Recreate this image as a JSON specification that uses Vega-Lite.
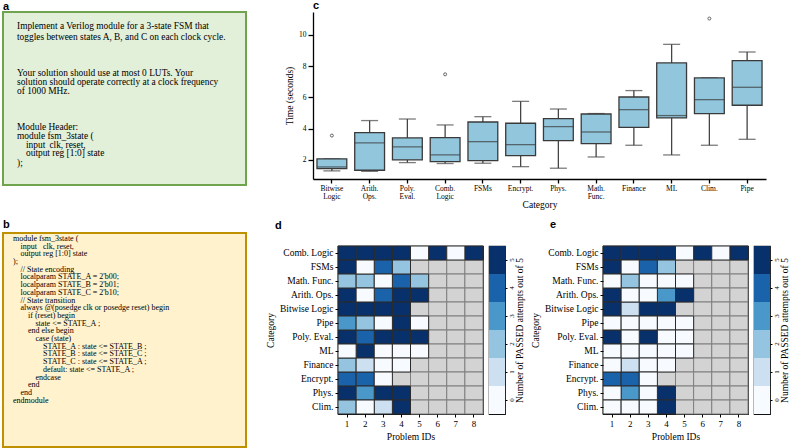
{
  "$schema": "https://vega.github.io/schema/vega-lite/v6.json",
  "padding": {"left": 2, "top": 0, "right": 0, "bottom": 0},
  "background": "white",
  "config": {
    "font": "Liberation Serif",
    "view": {"stroke": null},
    "axis": {"labelFont": "Liberation Serif", "titleFont": "Liberation Serif", "titleFontWeight": "normal", "labelColor": "#000", "titleColor": "#000", "domainColor": "#000", "tickColor": "#000", "grid": false},
    "title": {"font": "Liberation Sans", "fontWeight": "bold", "fontSize": 11, "anchor": "start", "frame": "group", "color": "#000"},
    "text": {"font": "Liberation Serif", "color": "#000"}
  },
  "datasets": {
    "box": [
      {"cat": "Bitwise Logic", "lo": 1.30, "q1": 1.45, "med": 1.55, "q3": 2.07, "hi": 2.07},
      {"cat": "Arith. Ops.", "lo": 1.27, "q1": 1.34, "med": 3.09, "q3": 3.75, "hi": 4.52},
      {"cat": "Poly. Eval.", "lo": 1.83, "q1": 2.00, "med": 2.83, "q3": 3.41, "hi": 4.62},
      {"cat": "Comb. Logic", "lo": 1.77, "q1": 1.89, "med": 2.32, "q3": 3.43, "hi": 4.24},
      {"cat": "FSMs", "lo": 1.79, "q1": 1.96, "med": 3.17, "q3": 4.43, "hi": 4.77},
      {"cat": "Encrypt.", "lo": 1.57, "q1": 2.28, "med": 2.98, "q3": 4.35, "hi": 5.75},
      {"cat": "Phys.", "lo": 1.47, "q1": 3.24, "med": 4.13, "q3": 4.65, "hi": 5.26},
      {"cat": "Math. Func.", "lo": 2.19, "q1": 3.05, "med": 3.79, "q3": 4.94, "hi": 4.97},
      {"cat": "Finance", "lo": 2.94, "q1": 4.09, "med": 5.22, "q3": 6.03, "hi": 6.44},
      {"cat": "ML", "lo": 2.32, "q1": 4.69, "med": 4.84, "q3": 8.21, "hi": 9.40},
      {"cat": "Clim.", "lo": 2.94, "q1": 4.97, "med": 5.86, "q3": 7.25, "hi": 7.25},
      {"cat": "Pipe", "lo": 3.32, "q1": 5.50, "med": 6.65, "q3": 8.36, "hi": 8.91}
    ],
    "out": [
      {"cat": "Bitwise Logic", "v": 3.56},
      {"cat": "Comb. Logic", "v": 7.48},
      {"cat": "Clim.", "v": 11.05}
    ],
    "hd": [
      {"cat": "Comb. Logic", "1": "5", "2": "5", "3": "5", "4": "5", "5": "0", "6": "5", "7": "0", "8": "5"},
      {"cat": "FSMs", "1": "5", "2": "0", "3": "4", "4": "2", "5": "NA", "6": "NA", "7": "NA", "8": "NA"},
      {"cat": "Math. Func.", "1": "2", "2": "2", "3": "0", "4": "4", "5": "2", "6": "NA", "7": "NA", "8": "NA"},
      {"cat": "Arith. Ops.", "1": "5", "2": "0", "3": "4", "4": "5", "5": "5", "6": "NA", "7": "NA", "8": "NA"},
      {"cat": "Bitwise Logic", "1": "5", "2": "5", "3": "5", "4": "5", "5": "NA", "6": "NA", "7": "NA", "8": "NA"},
      {"cat": "Pipe", "1": "3", "2": "2", "3": "0", "4": "5", "5": "0", "6": "NA", "7": "NA", "8": "NA"},
      {"cat": "Poly. Eval.", "1": "5", "2": "4", "3": "5", "4": "5", "5": "5", "6": "NA", "7": "NA", "8": "NA"},
      {"cat": "ML", "1": "0", "2": "5", "3": "0", "4": "0", "5": "0", "6": "NA", "7": "NA", "8": "NA"},
      {"cat": "Finance", "1": "2", "2": "1", "3": "0", "4": "0", "5": "NA", "6": "NA", "7": "NA", "8": "NA"},
      {"cat": "Encrypt.", "1": "4", "2": "4", "3": "0", "4": "NA", "5": "NA", "6": "NA", "7": "NA", "8": "NA"},
      {"cat": "Phys.", "1": "5", "2": "3", "3": "5", "4": "5", "5": "NA", "6": "NA", "7": "NA", "8": "NA"},
      {"cat": "Clim.", "1": "2", "2": "0", "3": "1", "4": "5", "5": "NA", "6": "NA", "7": "NA", "8": "NA"}
    ],
    "he": [
      {"cat": "Comb. Logic", "1": "5", "2": "5", "3": "5", "4": "5", "5": "0", "6": "5", "7": "0", "8": "5"},
      {"cat": "FSMs", "1": "5", "2": "0", "3": "4", "4": "2", "5": "NA", "6": "NA", "7": "NA", "8": "NA"},
      {"cat": "Math. Func.", "1": "0", "2": "2", "3": "0", "4": "0", "5": "0", "6": "NA", "7": "NA", "8": "NA"},
      {"cat": "Arith. Ops.", "1": "5", "2": "0", "3": "0", "4": "3", "5": "5", "6": "NA", "7": "NA", "8": "NA"},
      {"cat": "Bitwise Logic", "1": "5", "2": "1", "3": "5", "4": "5", "5": "NA", "6": "NA", "7": "NA", "8": "NA"},
      {"cat": "Pipe", "1": "0", "2": "0", "3": "0", "4": "0", "5": "0", "6": "NA", "7": "NA", "8": "NA"},
      {"cat": "Poly. Eval.", "1": "5", "2": "0", "3": "5", "4": "0", "5": "0", "6": "NA", "7": "NA", "8": "NA"},
      {"cat": "ML", "1": "0", "2": "0", "3": "0", "4": "0", "5": "0", "6": "NA", "7": "NA", "8": "NA"},
      {"cat": "Finance", "1": "0", "2": "1", "3": "0", "4": "0", "5": "NA", "6": "NA", "7": "NA", "8": "NA"},
      {"cat": "Encrypt.", "1": "4", "2": "4", "3": "0", "4": "NA", "5": "NA", "6": "NA", "7": "NA", "8": "NA"},
      {"cat": "Phys.", "1": "0", "2": "3", "3": "0", "4": "5", "5": "NA", "6": "NA", "7": "NA", "8": "NA"},
      {"cat": "Clim.", "1": "0", "2": "0", "3": "0", "4": "5", "5": "NA", "6": "NA", "7": "NA", "8": "NA"}
    ],
    "cb": [{"lvl": "0"}, {"lvl": "1"}, {"lvl": "2"}, {"lvl": "3"}, {"lvl": "4"}, {"lvl": "5"}],
    "ta": [
      {"t": "Implement a Verilog module for a 3-state FSM that", "ln": 0, "ind": 0},
      {"t": "toggles between states A, B, and C on each clock cycle.", "ln": 1.2, "ind": 0},
      {"t": "Your solution should use at most 0 LUTs. Your", "ln": 4.9, "ind": 0},
      {"t": "solution should operate correctly at a clock frequency", "ln": 5.9, "ind": 0},
      {"t": "of 1000 MHz.", "ln": 6.8, "ind": 0},
      {"t": "Module Header:", "ln": 10.6, "ind": 0},
      {"t": "module fsm_3state (", "ln": 11.6, "ind": 0},
      {"t": "input", "ln": 12.5, "ind": 1},
      {"t": "clk, reset,", "ln": 12.5, "ind": 3.6},
      {"t": "output reg [1:0] state", "ln": 13.4, "ind": 1},
      {"t": ");", "ln": 14.4, "ind": 0}
    ],
    "tb": [
      {"t": "module fsm_3state (", "ln": 0, "ind": 0},
      {"t": "input", "ln": 1, "ind": 1},
      {"t": "clk, reset,", "ln": 1, "ind": 4},
      {"t": "output reg [1:0] state", "ln": 2, "ind": 1},
      {"t": ");", "ln": 3, "ind": 0},
      {"t": "// State encoding", "ln": 4, "ind": 1},
      {"t": "localparam STATE_A = 2'b00;", "ln": 5, "ind": 1},
      {"t": "localparam STATE_B  = 2'b01;", "ln": 6, "ind": 1},
      {"t": "localparam STATE_C  = 2'b10;", "ln": 7, "ind": 1},
      {"t": "// State transition", "ln": 8, "ind": 1},
      {"t": "always @(posedge clk or posedge reset) begin", "ln": 9, "ind": 1},
      {"t": "if (reset) begin", "ln": 10, "ind": 2},
      {"t": "state <= STATE_A ;", "ln": 11, "ind": 3},
      {"t": "end else begin", "ln": 12, "ind": 2},
      {"t": "case (state)", "ln": 13, "ind": 3},
      {"t": "STATE_A : state <= STATE_B ;", "ln": 14, "ind": 4},
      {"t": "STATE_B : state <= STATE_C ;", "ln": 15, "ind": 4},
      {"t": "STATE_C : state <= STATE_A ;", "ln": 16, "ind": 4},
      {"t": "default: state <= STATE_A ;", "ln": 17, "ind": 4},
      {"t": "endcase", "ln": 18, "ind": 3},
      {"t": "end", "ln": 19, "ind": 2},
      {"t": "end", "ln": 20, "ind": 1},
      {"t": "endmodule", "ln": 21, "ind": 0}
    ]
  },
  "spacing": 17,
  "hconcat": [
    {
      "spacing": 32,
      "vconcat": [
        {
          "title": {"text": "a", "offset": 0},
          "width": 243, "height": 173,
          "data": {"name": "ta"},
          "view": {"fill": "#e2efd9", "stroke": "#6fa34d", "strokeWidth": 2},
          "mark": {"type": "text", "align": "left", "baseline": "middle", "fontSize": 9.4},
          "encoding": {
            "x": {"field": "ind", "type": "quantitative", "scale": {"domain": [-1.556, 25.444], "nice": false, "zero": false}, "axis": null},
            "y": {"field": "ln", "type": "quantitative", "scale": {"domain": [-1.474, 16.737], "nice": false, "zero": false, "reverse": true}, "axis": null},
            "text": {"field": "t"}
          }
        },
        {
          "title": {"text": "b", "offset": 3},
          "width": 243, "height": 214,
          "data": {"name": "tb"},
          "view": {"fill": "#fff2cc", "stroke": "#bf9000", "strokeWidth": 2},
          "mark": {"type": "text", "align": "left", "baseline": "middle", "fontSize": 8},
          "encoding": {
            "x": {"field": "ind", "type": "quantitative", "scale": {"domain": [-1.333, 31.067], "nice": false, "zero": false}, "axis": null},
            "y": {"field": "ln", "type": "quantitative", "scale": {"domain": [-0.779, 27.013], "nice": false, "zero": false, "reverse": true}, "axis": null},
            "text": {"field": "t"}
          }
        }
      ]
    },
    {
      "spacing": 8,
      "vconcat": [
        {
          "title": {"text": "c", "offset": 1},
          "width": 453, "height": 167,
          "data": {"name": "box"},
          "encoding": {
            "x": {
              "field": "cat", "type": "nominal",
              "sort": ["Bitwise Logic", "Arith. Ops.", "Poly. Eval.", "Comb. Logic", "FSMs", "Encrypt.", "Phys.", "Math. Func.", "Finance", "ML", "Clim.", "Pipe"],
              "scale": {"paddingInner": 0, "paddingOuter": 0},
              "axis": {"title": "Category", "labelAngle": 0, "labelExpr": "split(datum.label, ' ')", "labelLineHeight": 8, "labelFontSize": 7.5, "titleFontSize": 9.5, "tickSize": 4, "domainWidth": 1.3, "tickWidth": 1.3, "labelPadding": 1, "titlePadding": 0}
            }
          },
          "layer": [
            {
              "mark": {"type": "rule", "color": "#444", "strokeWidth": 1.3},
              "encoding": {
                "y": {"field": "lo", "type": "quantitative", "title": "Time (seconds)", "scale": {"domain": [0.78, 11.47], "nice": false, "zero": false},
                  "axis": {"values": [2, 4, 6, 8, 10], "title": "Time (seconds)", "labelFontSize": 7.5, "titleFontSize": 9.5, "tickSize": 5, "labelPadding": 2, "titlePadding": 4, "domainWidth": 1.3, "tickWidth": 1.3}},
                "y2": {"field": "q1"}
              }
            },
            {
              "mark": {"type": "rule", "color": "#444", "strokeWidth": 1.3},
              "encoding": {"y": {"field": "q3", "type": "quantitative", "title": "Time (seconds)"}, "y2": {"field": "hi"}}
            },
            {
              "mark": {"type": "tick", "color": "#444", "thickness": 1.3, "size": 17},
              "encoding": {"y": {"field": "lo", "type": "quantitative", "title": "Time (seconds)"}}
            },
            {
              "mark": {"type": "tick", "color": "#444", "thickness": 1.3, "size": 17},
              "encoding": {"y": {"field": "hi", "type": "quantitative", "title": "Time (seconds)"}}
            },
            {
              "mark": {"type": "bar", "fill": "#92c6dd", "stroke": "#3a3a3a", "strokeWidth": 1.3, "width": {"band": 0.79}},
              "encoding": {"y": {"field": "q1", "type": "quantitative", "title": "Time (seconds)"}, "y2": {"field": "q3"}}
            },
            {
              "mark": {"type": "tick", "color": "#3a3a3a", "thickness": 1.3, "size": 29.7},
              "encoding": {"y": {"field": "med", "type": "quantitative", "title": "Time (seconds)"}}
            },
            {
              "data": {"name": "out"},
              "mark": {"type": "point", "shape": "circle", "filled": false, "size": 9, "stroke": "#222", "strokeWidth": 1},
              "encoding": {"y": {"field": "v", "type": "quantitative", "title": "Time (seconds)"}}
            }
          ]
        },
        {
          "spacing": 6,
          "bounds": "flush",
          "hconcat": [
            {
              "width": 19, "height": 168,
              "data": {"values": []},
              "mark": {"type": "text"},
              "encoding": {}
            },
            {
              "title": {"text": "d", "offset": 15, "dx": -63},
              "width": 145, "height": 168,
              "data": {"name": "hd"},
              "transform": [{"fold": ["1", "2", "3", "4", "5", "6", "7", "8"], "as": ["pid", "lvl"]}],
              "view": {"stroke": "#111", "strokeWidth": 1.2},
              "mark": {"type": "rect", "strokeWidth": 1},
              "encoding": {
                "x": {"field": "pid", "type": "ordinal", "scale": {"paddingInner": 0, "paddingOuter": 0},
                  "axis": {"title": "Problem IDs", "labelAngle": 0, "labelFontSize": 9, "titleFontSize": 9.5, "tickSize": 3, "domain": false, "labelPadding": 2, "titlePadding": 3}},
                "y": {"field": "cat", "type": "nominal",
                  "sort": ["Comb. Logic", "FSMs", "Math. Func.", "Arith. Ops.", "Bitwise Logic", "Pipe", "Poly. Eval.", "ML", "Finance", "Encrypt.", "Phys.", "Clim."],
                  "scale": {"paddingInner": 0, "paddingOuter": 0},
                  "axis": {"title": "Category", "labelFontSize": 9.5, "titleFontSize": 9.5, "tickSize": 3, "domain": false, "labelPadding": 2, "titlePadding": 4}},
                "fill": {"field": "lvl", "type": "nominal", "scale": {"domain": ["0", "1", "2", "3", "4", "5", "NA"], "range": ["#f7fbff", "#cde0f1", "#94c4df", "#4a97c9", "#1a63aa", "#08306b", "#d3d3d3"]}, "legend": null},
                "stroke": {"condition": {"test": "datum.lvl === 'NA'", "value": "#7f7f7f"}, "value": "#2b2b2b"},
                "order": {"field": "lvl", "sort": "descending"}
              }
            },
            {
              "width": 16, "height": 168,
              "data": {"name": "cb"},
              "view": {"stroke": "#111", "strokeWidth": 1.2},
              "mark": {"type": "rect"},
              "encoding": {
                "y": {"field": "lvl", "type": "ordinal", "sort": "descending", "scale": {"paddingInner": 0, "paddingOuter": 0},
                  "axis": {"orient": "right", "title": "Number of PASSED attempts out of 5", "titleAngle": 270, "titleBaseline": "top", "titleFontSize": 9.5, "labelAngle": 270, "labelAlign": "center", "labelBaseline": "top", "labelFontSize": 7, "tickSize": 2, "labelPadding": 0.5, "titlePadding": 0, "domain": false}},
                "fill": {"field": "lvl", "type": "nominal", "scale": {"domain": ["0", "1", "2", "3", "4", "5", "NA"], "range": ["#f7fbff", "#cde0f1", "#94c4df", "#4a97c9", "#1a63aa", "#08306b", "#d3d3d3"]}, "legend": null}
              }
            },
            {
              "width": 86, "height": 168,
              "data": {"values": []},
              "mark": {"type": "text"},
              "encoding": {}
            },
            {
              "title": {"text": "e", "offset": 16, "dx": -53},
              "width": 145, "height": 168,
              "data": {"name": "he"},
              "transform": [{"fold": ["1", "2", "3", "4", "5", "6", "7", "8"], "as": ["pid", "lvl"]}],
              "view": {"stroke": "#111", "strokeWidth": 1.2},
              "mark": {"type": "rect", "strokeWidth": 1},
              "encoding": {
                "x": {"field": "pid", "type": "ordinal", "scale": {"paddingInner": 0, "paddingOuter": 0},
                  "axis": {"title": "Problem IDs", "labelAngle": 0, "labelFontSize": 9, "titleFontSize": 9.5, "tickSize": 3, "domain": false, "labelPadding": 2, "titlePadding": 3}},
                "y": {"field": "cat", "type": "nominal",
                  "sort": ["Comb. Logic", "FSMs", "Math. Func.", "Arith. Ops.", "Bitwise Logic", "Pipe", "Poly. Eval.", "ML", "Finance", "Encrypt.", "Phys.", "Clim."],
                  "scale": {"paddingInner": 0, "paddingOuter": 0},
                  "axis": {"title": "Category", "labelFontSize": 9.5, "titleFontSize": 9.5, "tickSize": 3, "domain": false, "labelPadding": 2, "titlePadding": 4}},
                "fill": {"field": "lvl", "type": "nominal", "scale": {"domain": ["0", "1", "2", "3", "4", "5", "NA"], "range": ["#f7fbff", "#cde0f1", "#94c4df", "#4a97c9", "#1a63aa", "#08306b", "#d3d3d3"]}, "legend": null},
                "stroke": {"condition": {"test": "datum.lvl === 'NA'", "value": "#7f7f7f"}, "value": "#2b2b2b"},
                "order": {"field": "lvl", "sort": "descending"}
              }
            },
            {
              "width": 16, "height": 168,
              "data": {"name": "cb"},
              "view": {"stroke": "#111", "strokeWidth": 1.2},
              "mark": {"type": "rect"},
              "encoding": {
                "y": {"field": "lvl", "type": "ordinal", "sort": "descending", "scale": {"paddingInner": 0, "paddingOuter": 0},
                  "axis": {"orient": "right", "title": "Number of PASSED attempts out of 5", "titleAngle": 270, "titleBaseline": "top", "titleFontSize": 9.5, "labelAngle": 270, "labelAlign": "center", "labelBaseline": "top", "labelFontSize": 7, "tickSize": 2, "labelPadding": 0.5, "titlePadding": 0, "domain": false}},
                "fill": {"field": "lvl", "type": "nominal", "scale": {"domain": ["0", "1", "2", "3", "4", "5", "NA"], "range": ["#f7fbff", "#cde0f1", "#94c4df", "#4a97c9", "#1a63aa", "#08306b", "#d3d3d3"]}, "legend": null}
              }
            }
          ]
        }
      ]
    }
  ]
}
